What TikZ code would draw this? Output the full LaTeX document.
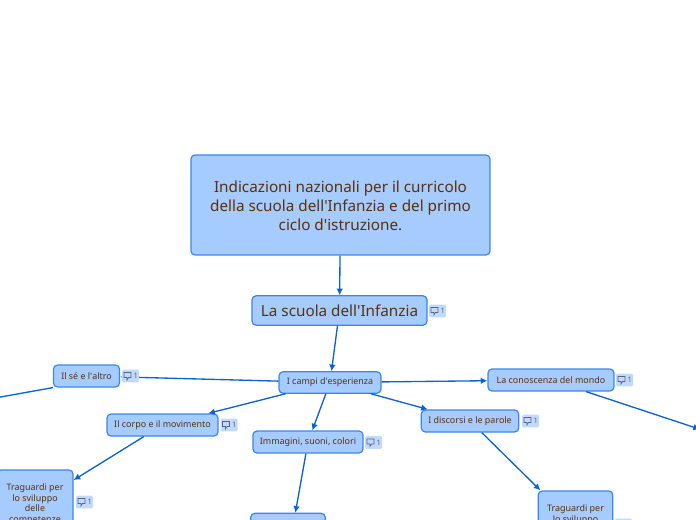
\documentclass[tikz,border=0pt]{standalone}
\usepackage{fontspec}
\setmainfont{Noto Sans}
\usetikzlibrary{arrows.meta}
\definecolor{nodefill}{HTML}{A6CBFF}
\definecolor{nodeline}{HTML}{3C86EA}
\definecolor{edgeline}{HTML}{0C62D6}
\definecolor{nodetext}{HTML}{5B3009}
\definecolor{badgefill}{HTML}{C0D9FF}
\definecolor{badgetext}{HTML}{5A6478}
\newcommand{\apos}{\textquotesingle}
\tikzset{
  topic/.style={draw=nodeline, fill=nodefill, text=nodetext, line width=0.9pt, rounded corners=3pt, inner sep=0pt, align=center, text centered},
  maintopic/.style={topic, font=\fontsize{11.45}{14.1}\selectfont},
  subtopic/.style={topic, font=\fontsize{6.7}{7.9}\selectfont},
  edge/.style={draw=edgeline, line width=1pt, -{Latex[length=5pt,width=5pt]}},
  badge/.style={fill=badgefill, text=badgetext, rounded corners=1pt, minimum width=12.75pt, minimum height=9.5pt, inner sep=0pt, font=\fontsize{5.6}{5.6}\selectfont},
  bubble/.style={draw=badgetext, line width=0.4pt}
}
\newcommand{\commentbadge}[3]{
  \node[badge] (#1) at (#2,#3) {\hspace{8pt}1};
  \draw[bubble] ([shift={(-6.5,-3.5)}]#1.center) -- ++(7,0) -- ++(0,5) -- ++(-2.5,0) -- ++(-1.5,2.5) -- ++(0,-2.5) -- ++(-3,0) -- cycle;
}
\begin{document}
\begin{tikzpicture}[x=0.75pt, y=-0.75pt]
      \useasboundingbox (0,0) rectangle (696,520);
      \clip (0,0) rectangle (696,520);

      % Free ends
      \coordinate (seend) at (-20,400.7);
      \coordinate (mondoend) at (700,429.3);

      % Nodes
      \node[maintopic, minimum width=224.25pt, minimum height=75pt] (root) at (340.5,205) {\rule{0pt}{10pt}Indicazioni nazionali per il curricolo\\della scuola dell\apos Infanzia e del primo\\ciclo d\apos istruzione.};
      \node[maintopic, minimum width=131.25pt, minimum height=22pt] (scuola) at (339.5,310.5) {La scuola dell\apos Infanzia};
      \node[subtopic, minimum width=76.5pt, minimum height=16pt] (campi) at (330,382.5) {\raisebox{-0.6pt}{I campi d\apos esperienza}};
      \node[subtopic, minimum width=49.5pt, minimum height=16.5pt] (se) at (86.5,376) {\raisebox{-0.6pt}{Il sé e l\apos altro}};
      \node[subtopic, minimum width=83.25pt, minimum height=16.5pt] (corpo) at (162.5,425) {\raisebox{-0.6pt}{Il corpo e il movimento}};
      \node[subtopic, minimum width=82.5pt, minimum height=16.5pt] (immagini) at (308,442) {\raisebox{-0.6pt}{Immagini, suoni, colori}};
      \node[subtopic, minimum width=73pt, minimum height=16.5pt] (discorsi) at (470,421) {\raisebox{-0.6pt}{I discorsi e le parole}};
      \node[subtopic, minimum width=94.5pt, minimum height=16.5pt] (mondo) at (551,380) {\raisebox{-0.6pt}{La conoscenza del mondo}};
      \node[subtopic, minimum width=57pt, minimum height=51pt] (traguardia) at (35,504) {Traguardi per\\lo sviluppo\\delle\\competenze};
      \node[subtopic, minimum width=56pt, minimum height=51pt] (traguardib) at (575.5,525) {Traguardi per\\lo sviluppo\\delle\\competenze};
      \node[subtopic, minimum width=56pt, minimum height=61pt] (traguardic) at (288,554) {};

      % Edges
      \draw[edge] (root) -- (scuola);
      \draw[edge] (scuola) -- (campi);
      \draw[edge] (campi) -- (se);
      \draw[edge] (campi) -- (corpo);
      \draw[edge] (campi) -- (immagini);
      \draw[edge] (campi) -- (discorsi);
      \draw[edge] (campi) -- (mondo);
      \draw[edge] (corpo) -- (traguardia);
      \draw[edge] (immagini) -- (traguardic);
      \draw[edge] (discorsi) -- (traguardib);
      \draw[edge] (se.south west) -- (seend);
      \draw[edge] (mondo) -- (mondoend);

      % Badges
      \commentbadge{badgescuola}{437.5}{311}
      \commentbadge{badgese}{130.5}{376}
      \commentbadge{badgecorpo}{229}{425}
      \commentbadge{badgeimmagini}{373.5}{442.5}
      \commentbadge{badgediscorsi}{530.5}{421}
      \commentbadge{badgemondo}{624.5}{380}
      \commentbadge{badgetraguardia}{84.5}{502}
      \commentbadge{badgetraguardib}{623.5}{525}
    \end{tikzpicture}
\end{document}
